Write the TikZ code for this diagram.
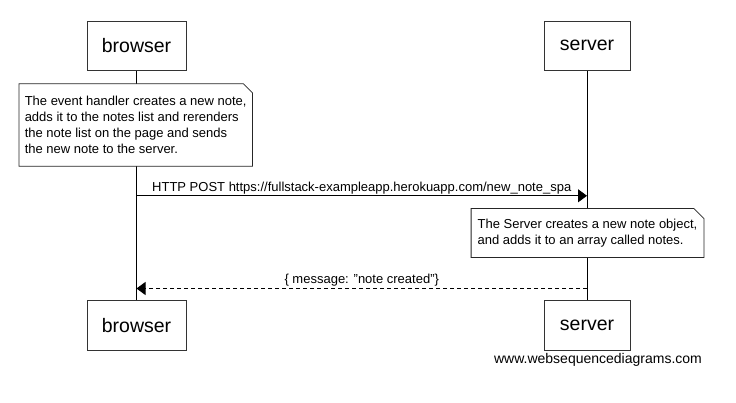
\documentclass[tikz,border=0pt]{standalone}
\usepackage{fontspec}
\setmainfont{Liberation Sans}
\usetikzlibrary{arrows.meta,calc}
\pgfdeclarelayer{lifelines}
\pgfdeclarelayer{frames}
\pgfsetlayers{lifelines,frames,main}
\begin{document}
\begin{tikzpicture}[x=1pt,y=-1pt,
  actor/.style={draw=black!80, line width=0.9pt, fill=white, minimum height=49.5pt, inner sep=0pt, font=\fontsize{19.5}{22}\selectfont},
  lifeline/.style={draw=black, line width=0.9pt},
  notetext/.style={draw=none, fill=none, align=left, inner sep=0pt, font=\fontsize{13}{16}\selectfont},
  noteframe/.style={draw=black!85, line width=0.8pt, fill=white},
  msg/.style={draw=black, line width=0.9pt, -{Triangle[length=9pt,width=13pt]}},
  reply/.style={msg, dash pattern=on 4pt off 3pt},
  msglabel/.style={font=\fontsize{13}{16}\selectfont, inner sep=1.5pt, fill=none}
]
\useasboundingbox (0,0) rectangle (736,403);
\begin{pgfonlayer}{lifelines}
\fill[white] (0,0) rectangle (736,403);
\end{pgfonlayer}

% actors
\node[actor, minimum width=99pt] (bt) at (136.5,45.8) {browser};
\node[actor, minimum width=86pt] (st) at (587,45.8) {server};
\node[actor, minimum width=99pt] (bb) at (136.5,325.5) {browser};
\node[actor, minimum width=86pt] (sb) at (587,325.5) {server};

% notes
\node[notetext, minimum width=233pt, minimum height=82pt] (n1) at (135.7,125) {The event handler creates a new note,\\adds it to the notes list and rerenders\\the note list on the page and sends\\the new note to the server.};
\node[notetext, minimum width=232.4pt, minimum height=48.6pt] (n2) at (587.5,233) {The Server creates a new note object,\\and adds it to an array called notes.};

\begin{pgfonlayer}{frames}
\draw[noteframe] (n1.north west) -- ($(n1.north east)+(-9,0)$) -- ($(n1.north east)+(0,9)$) -- (n1.south east) -- (n1.south west) -- cycle;
\draw[noteframe] (n2.north west) -- ($(n2.north east)+(-10,0)$) -- ($(n2.north east)+(0,10)$) -- (n2.south east) -- (n2.south west) -- cycle;
\end{pgfonlayer}

% lifelines (below everything)
\begin{pgfonlayer}{lifelines}
\draw[lifeline] (bt.south) -- (bb.north);
\draw[lifeline] (st.south) -- (sb.north);
\end{pgfonlayer}

% message 1
\coordinate (m1a) at (bt.south |- 0,195.8);
\coordinate (m1b) at (st.south |- 0,195.8);
\draw[msg] (m1a) -- node[msglabel, above] {HTTP POST https://fullstack-exampleapp.herokuapp.com/new\_note\_spa} (m1b);

% reply
\coordinate (m2a) at (st.south |- 0,288.5);
\coordinate (m2b) at (bt.south |- 0,288.5);
\draw[reply] (m2a) -- node[msglabel, above] {\{ message: \symbol{34}note created\symbol{34}\}} (m2b);

% watermark
\node[font=\fontsize{14}{16}\selectfont, inner sep=0pt] (wm) at (598,359.5) {www.websequencediagrams.com};
\end{tikzpicture}
\end{document}
